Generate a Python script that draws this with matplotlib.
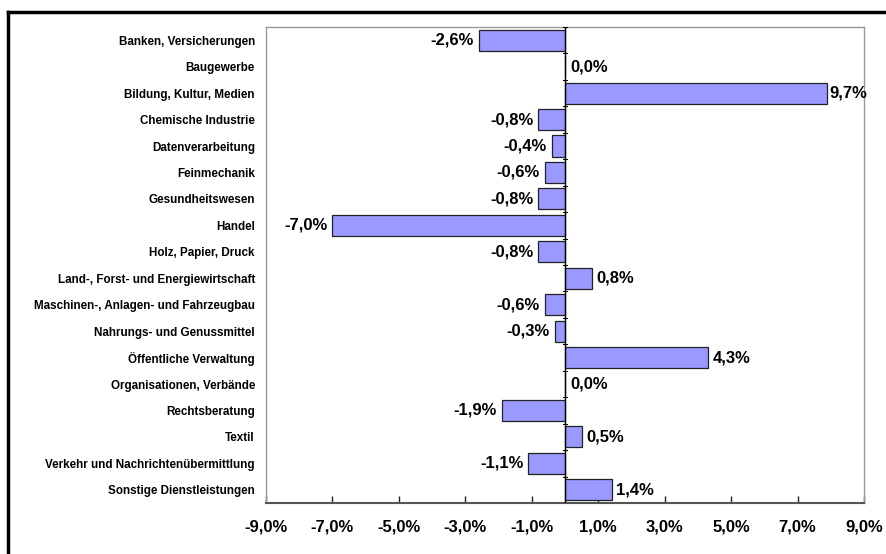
import numpy as np
import matplotlib.pyplot as plt
from matplotlib.lines import Line2D

plt.rcParams['font.family'] = ['Liberation Sans', 'DejaVu Sans']
plt.rcParams['font.weight'] = 'bold'

branchen = [
    "Banken, Versicherungen", "Baugewerbe", "Bildung, Kultur, Medien",
    "Chemische Industrie", "Datenverarbeitung", "Feinmechanik",
    "Gesundheitswesen", "Handel", "Holz, Papier, Druck",
    "Land-, Forst- und Energiewirtschaft", "Maschinen-, Anlagen- und Fahrzeugbau",
    "Nahrungs- und Genussmittel", "Öffentliche Verwaltung",
    "Organisationen, Verbände", "Rechtsberatung", "Textil",
    "Verkehr und Nachrichtenübermittlung", "Sonstige Dienstleistungen",
]
# bar lengths as drawn in the picture (the 9,7% bar is drawn to about 7,9%)
werte = [-2.6, 0.0, 7.9, -0.8, -0.4, -0.6, -0.8, -7.0, -0.8,
         0.8, -0.6, -0.3, 4.3, 0.0, -1.9, 0.5, -1.1, 1.4]
beschriftung = ["-2,6%", "0,0%", "9,7%", "-0,8%", "-0,4%", "-0,6%", "-0,8%", "-7,0%", "-0,8%",
                "0,8%", "-0,6%", "-0,3%", "4,3%", "0,0%", "-1,9%", "0,5%", "-1,1%", "1,4%"]
x_ticks = [-9, -7, -5, -3, -1, 1, 3, 5, 7, 9]
x_ticklabels = ["-9,0%", "-7,0%", "-5,0%", "-3,0%", "-1,0%", "1,0%", "3,0%", "5,0%", "7,0%", "9,0%"]

fig = plt.figure(figsize=(8.87, 5.54), dpi=100)
ax = fig.add_axes([266/887, 1-503/554, (864-266)/887, (503-27)/554])

y = np.arange(len(branchen))
ax.barh(y, werte, height=0.8, color='#9999ff', edgecolor='#222222', linewidth=0.9, zorder=3)

for yi, v, txt in zip(y, werte, beschriftung):
    if v < 0:
        ax.text(v - 0.15, yi, txt, ha='right', va='center', fontsize=12, fontweight='bold')
    elif v > 0:
        ax.text(v + 0.05 if v > 5 else v + 0.15, yi, txt, ha='left', va='center',
                fontsize=12, fontweight='bold')
    else:
        ax.text(v + 0.15, yi, txt, ha='left', va='center', fontsize=12, fontweight='bold')

ax.set_xlim(-9, 9)
ax.set_ylim(len(branchen) - 0.5, -0.5)
ax.set_yticks(y)
ax.set_yticklabels(branchen, fontsize=8.4, fontweight='bold')
ax.tick_params(axis='y', length=0, pad=8)
ax.set_xticks(x_ticks)
ax.set_xticklabels(x_ticklabels, fontsize=12, fontweight='bold')
ax.tick_params(axis='x', direction='in', length=5, width=1, color='#222222', pad=12)

# zero axis with small category ticks
ax.axvline(0, color='black', linewidth=1, zorder=4)
for b in np.arange(-0.5, len(branchen), 1.0):
    ax.plot([-0.06, 0.06], [b, b], color='black', linewidth=0.8, zorder=4)

for s in ['left', 'top', 'right']:
    ax.spines[s].set_color('#999999')
    ax.spines[s].set_linewidth(1)
ax.spines['bottom'].set_color('#555555')
ax.spines['bottom'].set_linewidth(1.5)

# outer frame (top and left visible)
fig.add_artist(Line2D([8.5/887, 1.0], [1-12/554, 1-12/554], color='black', linewidth=2.5))
fig.add_artist(Line2D([8.5/887, 8.5/887], [0, 1-12/554], color='black', linewidth=2.5))

fig.savefig('out.png', dpi=100)
